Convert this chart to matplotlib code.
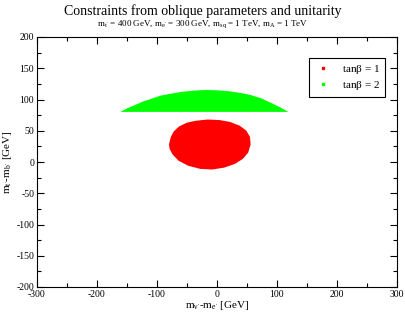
import matplotlib
matplotlib.use("Agg")
import matplotlib.pyplot as plt
from matplotlib.ticker import MultipleLocator

# region outlines (GeV)
red_x = [-80, -77, -72, -63, -50, -35, -15, 5, 22, 38, 49, 55, 56, 52, 43, 30, 12, -8, -28, -48, -64, -74, -79]
red_y = [28, 40, 49, 57, 63, 66, 68, 67, 64, 58, 50, 40, 28, 15, 5, -3, -9, -12, -11, -6, 2, 12, 21]

green_x = [-162, -150, -135, -123, -110, -95, -78, -60, -40, -20, 0, 20, 40, 55, 72, 88, 105, 118]
green_top = [81, 87, 93, 98, 102, 107, 110, 113, 115, 116, 115.5, 114, 111, 108, 103, 96, 88, 81]
green_bottom = 81

labels = [r"tan$\beta$ = 1", r"tan$\beta$ = 2"]
colors = ["#ff0000", "#00ff00"]

plt.rcParams["font.family"] = "Liberation Serif"
plt.rcParams["mathtext.fontset"] = "custom"
plt.rcParams["mathtext.rm"] = "Liberation Serif"
plt.rcParams["mathtext.it"] = "Liberation Serif"
plt.rcParams["axes.unicode_minus"] = False

fig = plt.figure(figsize=(4.06, 3.15), dpi=100)
ax = fig.add_axes([37 / 406, 1 - 287 / 315, 360 / 406, 250 / 315])

ax.fill(red_x, red_y, color=colors[0], lw=0)
ax.fill_between(green_x, green_bottom, green_top, color=colors[1], lw=0)

# legend entries
for lab, col in zip(labels, colors):
    ax.plot([], [], "s", color=col, ms=2, label=lab)
leg = ax.legend(loc="upper right", bbox_to_anchor=(0.967, 0.916), borderaxespad=0,
                fontsize=8, fancybox=False, framealpha=1, edgecolor="black",
                handlelength=1.6, handletextpad=0.9, borderpad=0.45,
                labelspacing=0.25)
leg.get_frame().set_linewidth(0.8)

ax.set_xlim(-300, 300)
ax.set_ylim(-200, 200)
ax.xaxis.set_major_locator(MultipleLocator(100))
ax.xaxis.set_minor_locator(MultipleLocator(50))
ax.yaxis.set_major_locator(MultipleLocator(50))
ax.yaxis.set_minor_locator(MultipleLocator(25))
ax.tick_params(which="both", direction="in", top=True, right=True, labelsize=7, width=0.8, pad=2)
ax.tick_params(which="major", length=5)
ax.tick_params(which="minor", length=3)
for s in ax.spines.values():
    s.set_linewidth(0.8)

ax.set_xlabel(r"m$_{\nu'}$-m$_{e'}$ [GeV]", fontsize=8, labelpad=0)
ax.set_ylabel(r"m$_{t'}$-m$_{b'}$ [GeV]", fontsize=8, labelpad=2)

fig.text(0.5, 0.965, "Constraints from oblique parameters and unitarity",
         ha="center", va="center", fontsize=10)
fig.text(0.5, 0.922, r"m$_{t'}$ = 400 GeV, m$_{e'}$ = 300 GeV, m$_{sq}$ = 1 TeV, m$_{A}$ = 1 TeV",
         ha="center", va="center", fontsize=6.5)

fig.savefig("out.png", dpi=100)
